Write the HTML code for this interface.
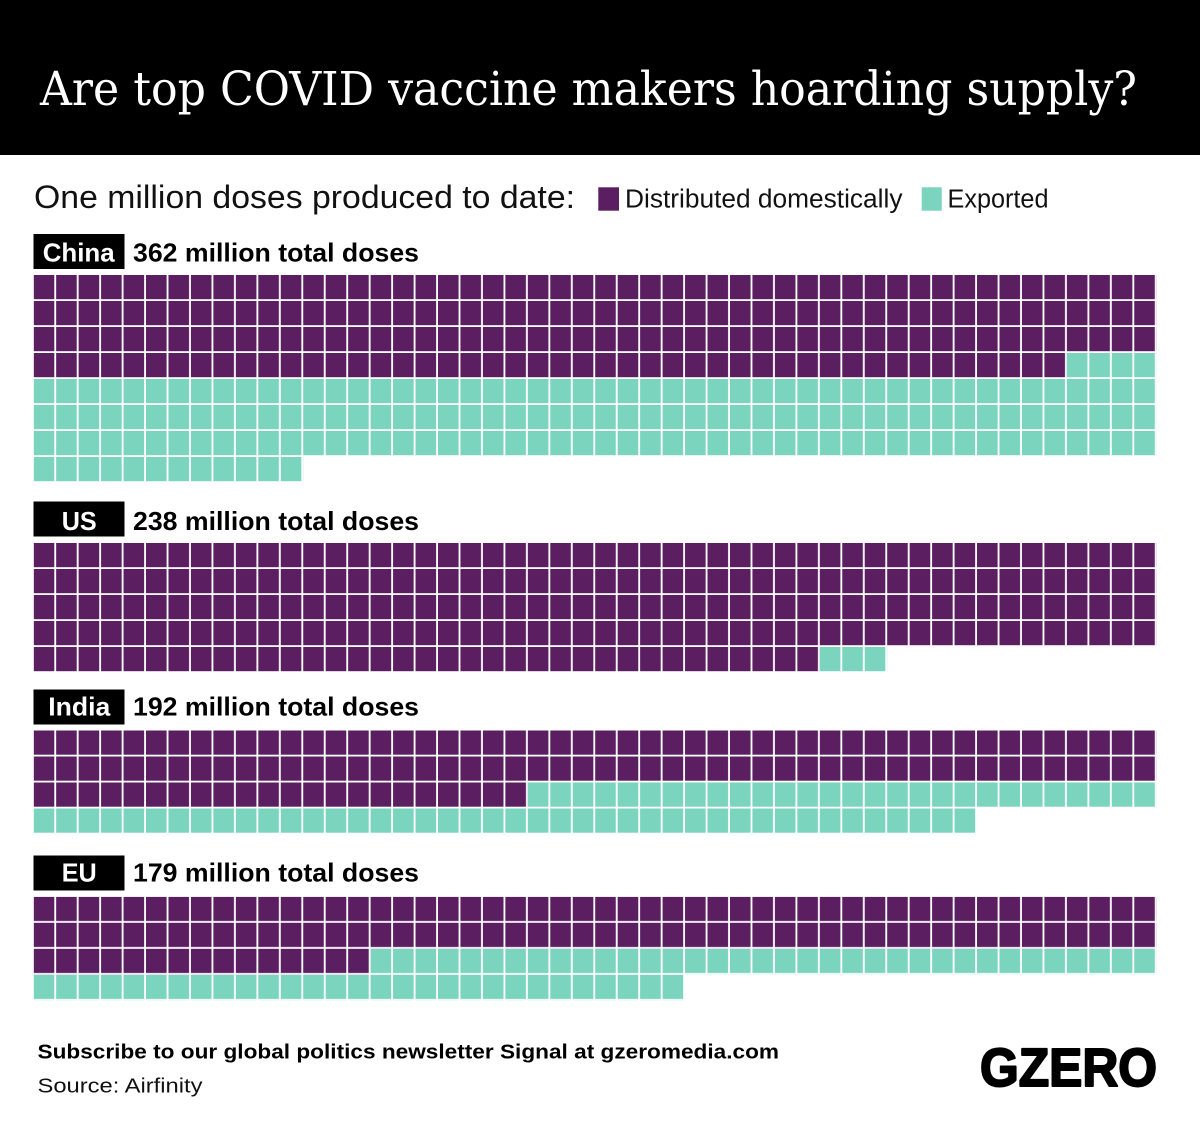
<!DOCTYPE html>
<html>
<head>
<meta charset="utf-8">
<style>
  html, body { margin: 0; padding: 0; background: #ffffff; }
  body { width: 1200px; height: 1122px; overflow: hidden; }
  svg { display: block; }
  .sans { font-family: "Liberation Sans", "DejaVu Sans", sans-serif; }
  .serif { font-family: "DejaVu Serif", "Liberation Serif", serif; }
</style>
</head>
<body>
<svg width="1200" height="1122" viewBox="0 0 1200 1122" xmlns="http://www.w3.org/2000/svg">
  <defs>
    <pattern id="pp" patternUnits="userSpaceOnUse" x="33.7" y="0" width="22.46" height="26">
      <rect x="0" y="0" width="20.6" height="24.2" fill="#5a1e61"/>
    </pattern>
    <pattern id="pg" patternUnits="userSpaceOnUse" x="33.7" y="0" width="22.46" height="26">
      <rect x="0" y="0" width="20.6" height="24.2" fill="#7ad4be"/>
    </pattern>
  </defs>

  <rect x="0" y="0" width="1200" height="1122" fill="#ffffff"/>

  <!-- Title bar -->
  <rect x="0" y="0" width="1200" height="155" fill="#000000"/>
  <text class="serif" x="40" y="105" font-size="47" fill="#ffffff" textLength="1097" lengthAdjust="spacingAndGlyphs">Are top COVID vaccine makers hoarding supply?</text>

  <!-- Legend -->
  <text class="sans" x="34" y="208" font-size="32" fill="#111111" textLength="541" lengthAdjust="spacingAndGlyphs">One million doses produced to date:</text>
  <rect x="598.3" y="187.3" width="20.7" height="23.4" fill="#5a1e61"/>
  <text class="sans" x="625" y="207.5" font-size="25.5" fill="#111111" textLength="277.5" lengthAdjust="spacingAndGlyphs">Distributed domestically</text>
  <rect x="921.7" y="187.3" width="20" height="23.4" fill="#7ad4be"/>
  <text class="sans" x="947.5" y="207.5" font-size="25.5" fill="#111111" textLength="101" lengthAdjust="spacingAndGlyphs">Exported</text>

  <!-- China -->
  <rect x="33.5" y="234" width="91" height="35" fill="#000000"/>
  <text class="sans" x="42.7" y="261.7" font-size="26" font-weight="bold" fill="#ffffff" textLength="72" lengthAdjust="spacingAndGlyphs">China</text>
  <text class="sans" x="133" y="261.7" font-size="26" font-weight="bold" fill="#000000" textLength="286" lengthAdjust="spacingAndGlyphs">362 million total doses</text>
  <g transform="translate(0,275)">
    <rect x="33.7" y="0" width="1123" height="78" fill="url(#pp)"/>
    <rect x="33.7" y="78" width="1033.16" height="26" fill="url(#pp)"/>
    <rect x="1066.86" y="78" width="89.84" height="26" fill="url(#pg)"/>
    <rect x="33.7" y="104" width="1123" height="78" fill="url(#pg)"/>
    <rect x="33.7" y="182" width="269.52" height="26" fill="url(#pg)"/>
  </g>

  <!-- US -->
  <rect x="33.5" y="501.5" width="91" height="35" fill="#000000"/>
  <text class="sans" x="61.7" y="530" font-size="26" font-weight="bold" fill="#ffffff" textLength="35" lengthAdjust="spacingAndGlyphs">US</text>
  <text class="sans" x="133" y="530" font-size="26" font-weight="bold" fill="#000000" textLength="286" lengthAdjust="spacingAndGlyphs">238 million total doses</text>
  <g transform="translate(0,543)">
    <rect x="33.7" y="0" width="1123" height="104" fill="url(#pp)"/>
    <rect x="33.7" y="104" width="786.1" height="26" fill="url(#pp)"/>
    <rect x="819.8" y="104" width="67.38" height="26" fill="url(#pg)"/>
  </g>

  <!-- India -->
  <rect x="33.5" y="689.5" width="91" height="35" fill="#000000"/>
  <text class="sans" x="48.3" y="715.5" font-size="26" font-weight="bold" fill="#ffffff" textLength="62" lengthAdjust="spacingAndGlyphs">India</text>
  <text class="sans" x="133" y="715.5" font-size="26" font-weight="bold" fill="#000000" textLength="286" lengthAdjust="spacingAndGlyphs">192 million total doses</text>
  <g transform="translate(0,730.5)">
    <rect x="33.7" y="0" width="1123" height="52" fill="url(#pp)"/>
    <rect x="33.7" y="52" width="494.12" height="26" fill="url(#pp)"/>
    <rect x="527.82" y="52" width="628.88" height="26" fill="url(#pg)"/>
    <rect x="33.7" y="78" width="943.32" height="26" fill="url(#pg)"/>
  </g>

  <!-- EU -->
  <rect x="33.5" y="855.5" width="91" height="35" fill="#000000"/>
  <text class="sans" x="61.7" y="881.7" font-size="26" font-weight="bold" fill="#ffffff" textLength="35" lengthAdjust="spacingAndGlyphs">EU</text>
  <text class="sans" x="133" y="881.7" font-size="26" font-weight="bold" fill="#000000" textLength="286" lengthAdjust="spacingAndGlyphs">179 million total doses</text>
  <g transform="translate(0,896.8)">
    <rect x="33.7" y="0" width="1123" height="52" fill="url(#pp)"/>
    <rect x="33.7" y="52" width="336.9" height="26" fill="url(#pp)"/>
    <rect x="370.6" y="52" width="786.1" height="26" fill="url(#pg)"/>
    <rect x="33.7" y="78" width="651.34" height="26" fill="url(#pg)"/>
  </g>

  <!-- Footer -->
  <text class="sans" x="37.5" y="1058.5" font-size="20" font-weight="bold" fill="#000000" textLength="741.5" lengthAdjust="spacingAndGlyphs">Subscribe to our global politics newsletter Signal at gzeromedia.com</text>
  <text class="sans" x="37.5" y="1092.5" font-size="20" fill="#111111" textLength="165" lengthAdjust="spacingAndGlyphs">Source: Airfinity</text>

  <!-- Logo -->
  <text class="sans" x="980" y="1086" font-size="53.5" font-weight="bold" fill="#000000" stroke="#000000" stroke-width="2" stroke-linejoin="round" textLength="177" lengthAdjust="spacingAndGlyphs">GZERO</text>
</svg>
</body>
</html>
